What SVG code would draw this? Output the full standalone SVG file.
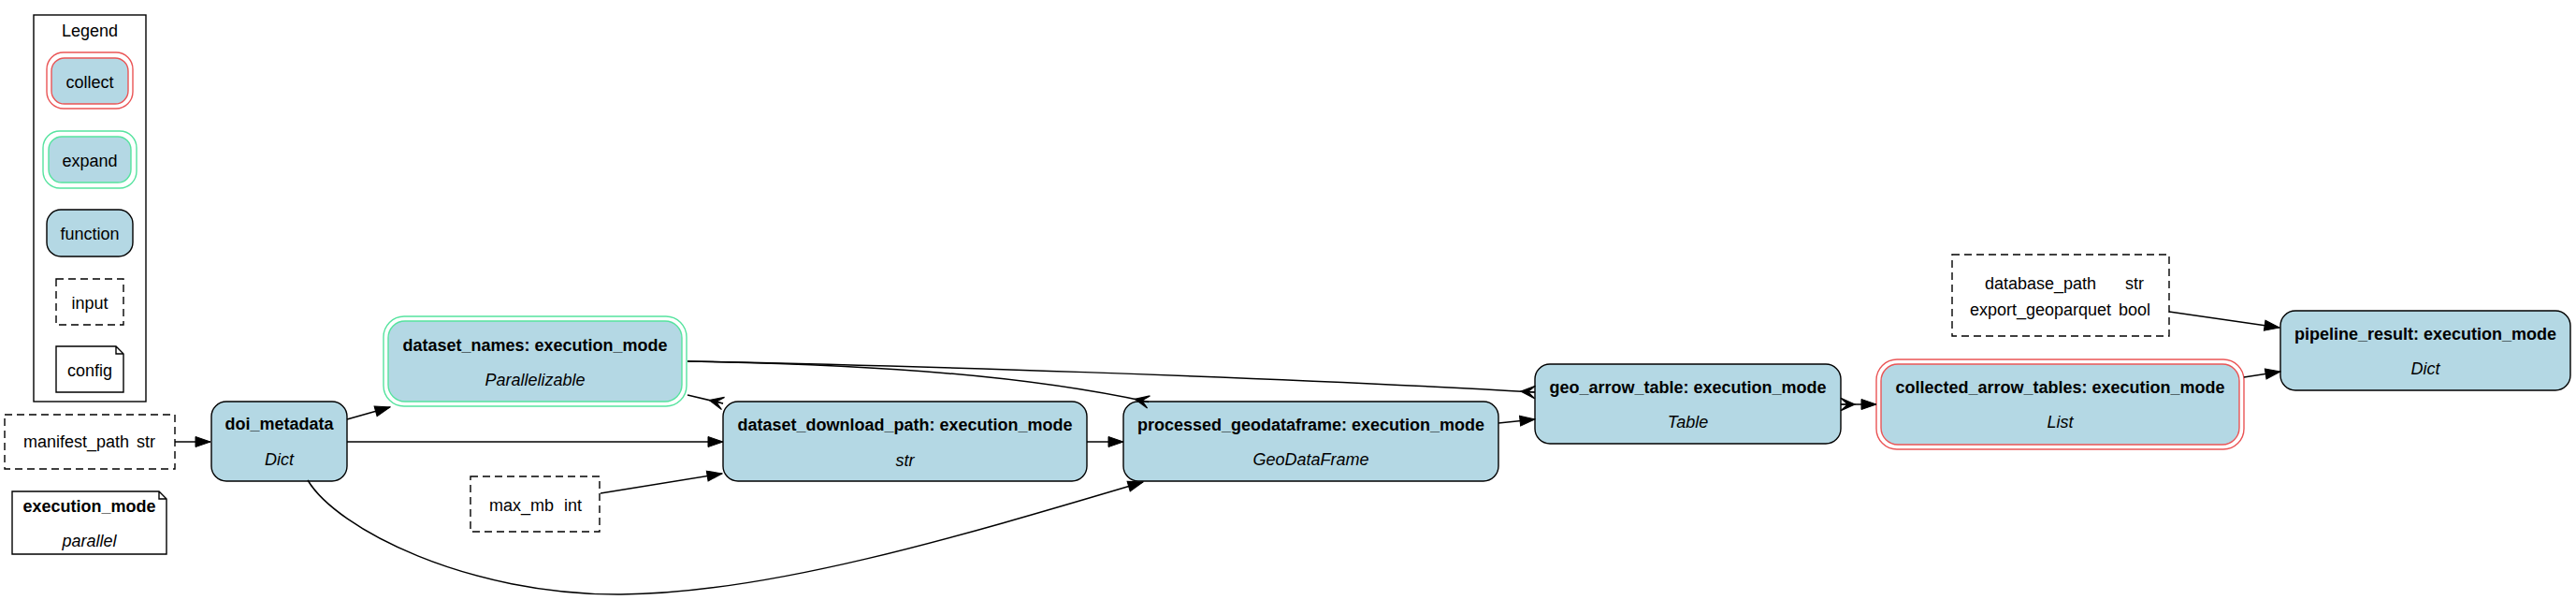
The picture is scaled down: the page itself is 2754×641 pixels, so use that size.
<svg xmlns="http://www.w3.org/2000/svg" width="2754" height="641" viewBox="0 0 2754 641">
<style>
text{font-family:"Liberation Sans",Arial,Helvetica,sans-serif;font-size:18px;fill:#000}
.c{text-anchor:middle}
.b{font-weight:bold}
.i{font-style:italic}
.fn{fill:#b4d8e4;stroke:#000;stroke-width:1.4}
.col{fill:none;stroke:#EA5556;stroke-width:1.4}
.colin{fill:#b4d8e4;stroke:#EA5556;stroke-width:1.4}
.exp{fill:none;stroke:#56E39F;stroke-width:1.4}
.expin{fill:#b4d8e4;stroke:#56E39F;stroke-width:1.4}
.inp{fill:#fff;stroke:#000;stroke-width:1.4;stroke-dasharray:8,5}
.note{fill:#fff;stroke:#000;stroke-width:1.4}
.e{fill:none;stroke:#000;stroke-width:1.5}
.a{marker-end:url(#arr)}
.cr{marker-end:url(#crow)}
</style>
<defs>
<marker id="arr" markerUnits="userSpaceOnUse" markerWidth="18" markerHeight="14" viewBox="-1 -7 18 14" refX="16" refY="0" orient="auto">
<path d="M0,-5.5 L16,0 L0,5.5 Z" fill="#000" stroke="#000" stroke-width="1"/>
</marker>
<marker id="crow" markerUnits="userSpaceOnUse" markerWidth="18" markerHeight="18" viewBox="-1 -9 18 18" refX="15" refY="0" orient="auto">
<path d="M0,0 L15,-6.75 L7.5,0 L15,0 L7.5,0 L15,6.75 Z" fill="#000" stroke="#000" stroke-width="1.2" stroke-linejoin="miter"/>
</marker>
<marker id="crowtail" markerUnits="userSpaceOnUse" markerWidth="18" markerHeight="18" viewBox="-1 -9 18 18" refX="0" refY="0" orient="auto">
<path d="M15,0 L0,-6.75 L7.5,0 L0,0 L7.5,0 L0,6.75 Z" fill="#000" stroke="#000" stroke-width="1.2"/>
</marker>
</defs>
<rect width="2754" height="641" fill="#fff"/>

<g id="legend">
<rect x="36" y="16" width="120" height="413" fill="none" stroke="#000" stroke-width="1.4"/>
<text class="c" x="96" y="39">Legend</text>
<rect class="col" x="50" y="56" width="92" height="60" rx="18"/>
<rect class="colin" x="55" y="62" width="82" height="49" rx="14"/>
<text class="c" x="96" y="94">collect</text>
<rect class="exp" x="46" y="140" width="100" height="61" rx="18"/>
<rect class="expin" x="52" y="146" width="88" height="49" rx="14"/>
<text class="c" x="96" y="178">expand</text>
<rect class="fn" x="50" y="224" width="92" height="50" rx="15"/>
<text class="c" x="96" y="256">function</text>
<rect class="inp" x="60" y="298" width="72" height="49"/>
<text class="c" x="96" y="330">input</text>
<path class="note" d="M60,370 L124,370 L132,378 L132,419 L60,419 Z M124,370 L124,378 L132,378"/>
<text class="c" x="96" y="402">config</text>
</g>

<g id="manifest_path">
<rect class="inp" x="5" y="443" width="182" height="58"/>
<text x="25" y="478">manifest_path</text>
<text x="146" y="478">str</text>
</g>

<g id="execution_mode">
<path class="note" d="M13,525 L170,525 L178,533 L178,592 L13,592 Z M170,525 L170,533 L178,533"/>
<text class="c b" x="95.5" y="547">execution_mode</text>
<text class="c i" x="95.5" y="584">parallel</text>
</g>

<g id="doi_metadata">
<rect class="fn" x="226" y="429" width="145" height="85" rx="16"/>
<text class="c b" x="298.5" y="459">doi_metadata</text>
<text class="c i" x="298.5" y="497">Dict</text>
</g>

<g id="dataset_names">
<rect class="exp" x="410" y="338" width="324" height="96" rx="22"/>
<rect class="expin" x="415" y="343" width="314" height="86" rx="18"/>
<text class="c b" x="572" y="375">dataset_names: execution_mode</text>
<text class="c i" x="572" y="412">Parallelizable</text>
</g>

<g id="max_mb">
<rect class="inp" x="503" y="509" width="138" height="59"/>
<text x="523" y="546">max_mb</text>
<text x="603" y="546">int</text>
</g>

<g id="dataset_download_path">
<rect class="fn" x="773" y="429" width="389" height="85" rx="16"/>
<text class="c b" x="967.5" y="460">dataset_download_path: execution_mode</text>
<text class="c i" x="967.5" y="498">str</text>
</g>

<g id="processed_geodataframe">
<rect class="fn" x="1201" y="429" width="401" height="85" rx="16"/>
<text class="c b" x="1401.5" y="460">processed_geodataframe: execution_mode</text>
<text class="c i" x="1401.5" y="497">GeoDataFrame</text>
</g>

<g id="geo_arrow_table">
<rect class="fn" x="1641" y="389" width="327" height="85" rx="16"/>
<text class="c b" x="1804.5" y="420">geo_arrow_table: execution_mode</text>
<text class="c i" x="1804.5" y="457">Table</text>
</g>

<g id="collected_arrow_tables">
<rect class="col" x="2006" y="384" width="393" height="96" rx="22"/>
<rect class="colin" x="2011" y="389" width="383" height="86" rx="18"/>
<text class="c b" x="2202.5" y="420">collected_arrow_tables: execution_mode</text>
<text class="c i" x="2202.5" y="457">List</text>
</g>

<g id="pipeline_inputs">
<rect class="inp" x="2087" y="272" width="232" height="87"/>
<text x="2122" y="309">database_path</text>
<text x="2272" y="309">str</text>
<text x="2106" y="337">export_geoparquet</text>
<text x="2265" y="337">bool</text>
</g>

<g id="pipeline_result">
<rect class="fn" x="2438" y="332" width="310" height="85" rx="16"/>
<text class="c b" x="2593" y="363">pipeline_result: execution_mode</text>
<text class="c i" x="2593" y="400">Dict</text>
</g>

<g id="connectors">
<path class="e a" d="M187,472 L225,472"/>
<path class="e a" d="M371,448 L417,435"/>
<path class="e a" d="M371,472 L773,472"/>
<path class="e a" d="M329,513 C360,565 500,636 664,635 C820,634 1020,575 1222,515"/>
<path class="e a" d="M642,527 L772,506"/>
<path class="e cr" d="M735,422 L773,431"/>
<path class="e cr" d="M735,386 C950,390 1100,402 1228,429.5"/>
<path class="e cr" d="M735,386 C950,390 1350,402 1641,419"/>
<path class="e a" d="M1162,472 L1201,472"/>
<path class="e a" d="M1602,452 L1641,448"/>
<path class="e a" d="M1968,432 L2006,432" style="marker-start:url(#crowtail)"/>
<path class="e a" d="M2399,403 L2438,397"/>
<path class="e a" d="M2319,333 L2437,350"/>
</g>
</svg>
